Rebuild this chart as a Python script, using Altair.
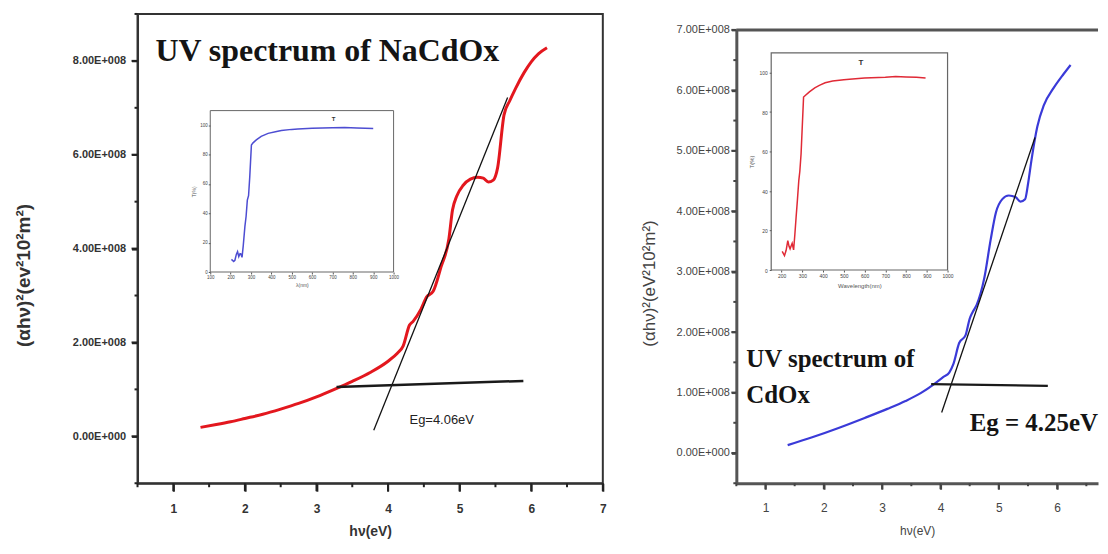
import altair as alt
import pandas as pd

# ---------------- data ----------------
# Left panel: NaCdOx Tauc plot, (αhν)² in units of 1E+008
na_hv = [1.38, 1.6, 1.8, 2.0, 2.25, 2.5, 2.75, 3.0, 3.25, 3.5, 3.75, 4.0, 4.13, 4.21,
         4.3, 4.35, 4.46, 4.54, 4.63, 4.74, 4.85, 4.9, 4.96, 5.05, 5.15, 5.25, 5.33,
         5.4, 5.47, 5.53, 5.62, 5.7, 5.78, 5.9, 6.0, 6.1, 6.22]
na_ahv2 = [0.19, 0.25, 0.31, 0.38, 0.47, 0.58, 0.70, 0.84, 1.00, 1.17, 1.36, 1.60, 1.77, 1.92,
           2.37, 2.45, 2.71, 2.97, 3.09, 3.61, 4.21, 4.82, 5.12, 5.35, 5.48, 5.52, 5.50,
           5.42, 5.46, 5.72, 6.85, 7.15, 7.41, 7.75, 7.98, 8.15, 8.28]
na_tan_hv = [3.80, 5.67]
na_tan_ahv2 = [0.13, 7.22]
na_base_hv = [3.28, 5.89]
na_base_ahv2 = [1.05, 1.18]
# Left inset: transmittance (%) vs wavelength (nm)
na_nm = [204, 215, 221, 228, 234, 240, 246, 250, 256, 262, 270, 276, 282, 288, 294, 302,
         310, 326, 350, 384, 420, 449, 500, 530, 600, 700, 760, 820, 900]
na_T = [8.6, 7.2, 8.0, 12.0, 13.9, 10.5, 12.5, 12.3, 10.0, 18.0, 30.9, 38.0, 49.0, 52.0, 65.0, 86.6,
        88.0, 90.0, 92.5, 94.5, 95.6, 96.4, 97.2, 97.5, 97.9, 98.3, 98.4, 98.1, 97.8]

# Right panel: CdOx Tauc plot
cd_hv = [1.38, 1.8, 2.24, 2.7, 3.09, 3.4, 3.66, 3.89, 4.05, 4.15, 4.22, 4.32, 4.43, 4.5,
         4.55, 4.62, 4.75, 4.86, 4.95, 5.06, 5.17, 5.29, 5.37, 5.45, 5.5, 5.56, 5.66, 5.77,
         5.94, 6.11, 6.23]
cd_ahv2 = [0.13, 0.26, 0.41, 0.58, 0.73, 0.86, 0.99, 1.14, 1.26, 1.33, 1.47, 1.82, 1.95, 2.22,
           2.33, 2.45, 2.89, 3.53, 3.98, 4.20, 4.26, 4.23, 4.16, 4.20, 4.45, 4.85, 5.40, 5.75,
           6.04, 6.27, 6.42]
cd_tan_hv = [4.02, 5.62]
cd_tan_ahv2 = [0.67, 5.22]
cd_base_hv = [3.84, 5.84]
cd_base_ahv2 = [1.14, 1.11]
cd_nm = [203, 214, 222, 230, 236, 241, 251, 258, 264, 270, 276, 283, 288, 294, 306, 334,
         360, 382, 410, 446, 500, 527, 600, 700, 750, 800, 850, 894]
cd_T = [9.4, 7.3, 10.0, 14.9, 12.0, 10.7, 13.5, 10.2, 18.0, 26.7, 35.0, 45.3, 50.0, 58.9, 87.6, 90.2,
        92.2, 93.5, 94.8, 95.7, 96.3, 96.6, 97.2, 97.6, 98.0, 97.8, 97.6, 97.2]

# tick values
na_x_major = [1, 2, 3, 4, 5, 6, 7]
na_x_minor = [0.5, 1.5, 2.5, 3.5, 4.5, 5.5, 6.5]
na_y_major = [0, 2, 4, 6, 8]
na_y_minor = [-1, 1, 3, 5, 7, 9]
cd_x_major = [1, 2, 3, 4, 5, 6]
cd_x_minor = [0.5, 1.5, 2.5, 3.5, 4.5, 5.5, 6.5]
cd_y_major = [0, 1, 2, 3, 4, 5, 6, 7]
cd_y_minor = [-0.5, 0.5, 1.5, 2.5, 3.5, 4.5, 5.5, 6.5]
na_inset_x_ticks = [100, 200, 300, 400, 500, 600, 700, 800, 900, 1000]
cd_inset_x_ticks = [200, 300, 400, 500, 600, 700, 800, 900, 1000]
inset_y_ticks = [0, 20, 40, 60, 80, 100]

# ---------------- style ----------------
RED = "#e3171e"
BLUE = "#3a3ad8"
INSET_BLUE = "#4d4dd2"
INSET_RED = "#e02a36"
SANS = "Liberation Sans"
SERIF = "Liberation Serif"

LW, LH = 467, 471
RW, RH = 363, 471

E_LABEL = "datum.value === 0 ? '0.00E+000' : format(datum.value, '.2f') + 'E+008'"


def one(**kw):
    return pd.DataFrame({k: [v] for k, v in kw.items()})


def tick_rules(xs, ys, xa, ya, xdom, ydom, px_per_x, px_per_y,
               x_major, x_minor, y_major, y_minor, maj_x, min_x, maj_y, min_y, color, width):
    """Outward tick marks drawn through the panel's own scales."""
    rows = []
    for v, L in [(v, maj_x) for v in x_major] + [(v, min_x) for v in x_minor]:
        rows.append({"x": v, "x2": v, "y": ydom[0], "y2": ydom[0] - L / px_per_y})
    for v, L in [(v, maj_y) for v in y_major] + [(v, min_y) for v in y_minor]:
        rows.append({"x": xdom[0], "x2": xdom[0] - L / px_per_x, "y": v, "y2": v})
    return alt.Chart(pd.DataFrame(rows)).mark_rule(color=color, strokeWidth=width).encode(
        x=alt.X("x:Q", scale=xs, axis=xa), x2="x2:Q",
        y=alt.Y("y:Q", scale=ys, axis=ya), y2="y2:Q")


# ================= LEFT PANEL =================
NA_XD, NA_YD = [0.5, 7], [-1, 9]
na_xs = alt.Scale(domain=NA_XD, nice=False, zero=False)
na_ys = alt.Scale(domain=NA_YD, nice=False, zero=False)
na_xa = alt.Axis(orient="bottom", title="hν(eV)", values=na_x_major, format="d",
                 ticks=True, tickSize=8, tickWidth=2, tickColor="#222",
                 domainColor="#333", domainWidth=2,
                 labelFont=SANS, labelFontWeight="bold", labelFontSize=12, labelColor="#333",
                 labelPadding=12, labelFlush=False,
                 titleFont=SANS, titleFontWeight="bold", titleFontSize=14, titleColor="#333",
                 titlePadding=10)
na_ya = alt.Axis(orient="left", title="(αhν)²(ev²10²m²)", values=na_y_major,
                 labelExpr=E_LABEL,
                 ticks=True, tickSize=6, tickWidth=2, tickColor="#222",
                 domainColor="#333", domainWidth=2,
                 labelFont=SANS, labelFontWeight="bold", labelFontSize=11, labelColor="#333",
                 labelPadding=6,
                 titleFont=SANS, titleFontWeight="bold", titleFontSize=19, titleColor="#333",
                 titleX=-104, titleY=262)


def na_enc(ch):
    return ch.encode(x=alt.X("x:Q", scale=na_xs, axis=na_xa),
                     y=alt.Y("y:Q", scale=na_ys, axis=na_ya))


na_curve = na_enc(alt.Chart(pd.DataFrame({"x": na_hv, "y": na_ahv2}))
                  .mark_line(color=RED, strokeWidth=3, interpolate="monotone"))
na_tan = na_enc(alt.Chart(pd.DataFrame({"x": na_tan_hv, "y": na_tan_ahv2}))
                .mark_line(color="#111", strokeWidth=1.3))
na_base = na_enc(alt.Chart(pd.DataFrame({"x": na_base_hv, "y": na_base_ahv2}))
                 .mark_line(color="#1a1a1a", strokeWidth=2.5))
na_title = na_enc(alt.Chart(one(x=0.75, y=8.2, t="UV spectrum of NaCdOx")).mark_text(
    align="left", baseline="middle", font=SERIF, fontWeight="bold", fontSize=32, color="#141414"
)).encode(text="t:N")
na_eg = na_enc(alt.Chart(one(x=4.3, y=0.34, t="Eg=4.06eV")).mark_text(
    align="left", baseline="middle", font=SANS, fontSize=13, color="#222"
)).encode(text="t:N")
na_ticks = tick_rules(na_xs, na_ys, na_xa, na_ya, NA_XD, NA_YD,
                      LW / (NA_XD[1] - NA_XD[0]), LH / (NA_YD[1] - NA_YD[0]),
                      na_x_major, na_x_minor, na_y_major, na_y_minor, 8, 4, 6, 3, "#222", 2)

na_main = alt.layer(na_curve, na_tan, na_base, na_title, na_eg, na_ticks)

# left inset
na_ixs = alt.Scale(domain=[100, 1000], range=[73, 257], nice=False, zero=False)
na_iys = alt.Scale(domain=[0, 110], range=[259, 97], nice=False, zero=False)
na_ixa = alt.Axis(orient="bottom", offset=-212, title="λ(nm)", values=na_inset_x_ticks, format="d",
                  ticks=True, tickSize=2, tickColor="#555", domain=False, labelFontSize=4.5,
                  labelColor="#444", labelPadding=1, labelFlush=False, labelOverlap=False,
                  labelFont=SANS, titleFontSize=5, titleFont=SANS, titleColor="#555",
                  titlePadding=3, titleFontWeight="normal")
na_iya = alt.Axis(orient="left", offset=-73, title="T(%)", values=inset_y_ticks, format="d",
                  ticks=True, tickSize=2, tickColor="#555", domain=False, labelFontSize=4.5,
                  labelColor="#444", labelPadding=1, labelFont=SANS, titleFontSize=5,
                  titleFont=SANS, titleColor="#555", titlePadding=3, titleFontWeight="normal")


def na_ienc(ch):
    return ch.encode(x=alt.X("x:Q", scale=na_ixs, axis=na_ixa),
                     y=alt.Y("y:Q", scale=na_iys, axis=na_iya))


na_iframe = alt.Chart(one(x=100, x2=1000, y=0, y2=110)).mark_rect(
    filled=False, stroke="#666", strokeWidth=1
).encode(x=alt.X("x:Q", scale=na_ixs, axis=na_ixa), x2="x2:Q",
         y=alt.Y("y:Q", scale=na_iys, axis=na_iya), y2="y2:Q")
na_icurve = na_ienc(alt.Chart(pd.DataFrame({"x": na_nm, "y": na_T}))
                    .mark_line(color=INSET_BLUE, strokeWidth=1.5))
na_iT = na_ienc(alt.Chart(one(x=705, y=104, t="T")).mark_text(
    font=SANS, fontSize=6, fontWeight="bold", color="#333")).encode(text="t:N")
na_inset = alt.layer(na_iframe, na_icurve, na_iT)

left_panel = alt.layer(na_main, na_inset).resolve_scale(
    x="independent", y="independent"
).properties(width=LW, height=LH, view=alt.ViewBackground(stroke="#333", strokeWidth=2, fill="white"))

# ================= RIGHT PANEL =================
CD_XD, CD_YD = [0.5, 6.7], [-0.5, 7]
CD_YR = [471, 16]
cd_xs = alt.Scale(domain=CD_XD, nice=False, zero=False)
cd_ys = alt.Scale(domain=CD_YD, range=CD_YR, nice=False, zero=False)
cd_xa = alt.Axis(orient="bottom", title="hν(eV)", values=cd_x_major, format="d",
                 ticks=True, tickSize=6, tickWidth=2, tickColor="#444",
                 domainColor="#555", domainWidth=3,
                 labelFont=SANS, labelFontSize=12, labelColor="#444", labelPadding=13,
                 labelFlush=False,
                 titleFont=SANS, titleFontWeight="normal", titleFontSize=12, titleColor="#444",
                 titlePadding=12)
cd_ya = alt.Axis(orient="left", title="(αhν)²(eV²10²m²)", values=cd_y_major,
                 labelExpr=E_LABEL,
                 ticks=True, tickSize=5, tickWidth=2, tickColor="#444",
                 domainColor="#555", domainWidth=3,
                 labelFont=SANS, labelFontSize=11, labelColor="#444", labelPadding=2,
                 titleFont=SANS, titleFontWeight="normal", titleFontSize=17, titleColor="#444",
                 titleX=-78, titleY=270)


def cd_enc(ch):
    return ch.encode(x=alt.X("x:Q", scale=cd_xs, axis=cd_xa),
                     y=alt.Y("y:Q", scale=cd_ys, axis=cd_ya))


cd_curve = cd_enc(alt.Chart(pd.DataFrame({"x": cd_hv, "y": cd_ahv2}))
                  .mark_line(color=BLUE, strokeWidth=2.2, interpolate="monotone"))
cd_tan = cd_enc(alt.Chart(pd.DataFrame({"x": cd_tan_hv, "y": cd_tan_ahv2}))
                .mark_line(color="#111", strokeWidth=1.3))
cd_base = cd_enc(alt.Chart(pd.DataFrame({"x": cd_base_hv, "y": cd_base_ahv2}))
                 .mark_line(color="#1a1a1a", strokeWidth=2.2))
cd_top = alt.Chart(one(x=CD_XD[0], x2=CD_XD[1], y=CD_YD[1])).mark_rule(
    color="#555", strokeWidth=3).encode(
    x=alt.X("x:Q", scale=cd_xs, axis=cd_xa), x2="x2:Q", y=alt.Y("y:Q", scale=cd_ys, axis=cd_ya))
cd_txt = cd_enc(alt.Chart(pd.DataFrame({"x": [0.67, 0.67, 4.5],
                                        "y": [1.55, 0.96, 0.5],
                                        "t": ["UV spectrum of", "CdOx", "Eg = 4.25eV"]})).mark_text(
    align="left", baseline="middle", font=SERIF, fontWeight="bold", fontSize=25, color="#141414"
)).encode(text="t:N")
cd_ticks = tick_rules(cd_xs, cd_ys, cd_xa, cd_ya, CD_XD, CD_YD,
                      RW / (CD_XD[1] - CD_XD[0]), (CD_YR[0] - CD_YR[1]) / (CD_YD[1] - CD_YD[0]),
                      cd_x_major, cd_x_minor, cd_y_major, cd_y_minor, 6, 3, 5, 3, "#444", 2)

cd_main = alt.layer(cd_top, cd_curve, cd_tan, cd_base, cd_txt, cd_ticks)

cd_ixs = alt.Scale(domain=[150, 1000], range=[35, 212], nice=False, zero=False)
cd_iys = alt.Scale(domain=[0, 110], range=[257, 39], nice=False, zero=False)
cd_ixa = alt.Axis(orient="bottom", offset=-214, title="Wavelength(nm)", values=cd_inset_x_ticks,
                  format="d", ticks=True, tickSize=2, tickColor="#555", domain=False,
                  labelFontSize=5, labelColor="#444", labelPadding=2, labelFlush=False,
                  labelOverlap=False, labelFont=SANS, titleFontSize=6, titleFont=SANS,
                  titleColor="#555", titlePadding=4, titleFontWeight="normal")
cd_iya = alt.Axis(orient="left", offset=-35, title="T(%)", values=inset_y_ticks, format="d",
                  ticks=True, tickSize=2, tickColor="#555", domain=False, labelFontSize=5,
                  labelColor="#444", labelPadding=2, labelFont=SANS, titleFontSize=6,
                  titleFont=SANS, titleColor="#555", titlePadding=4, titleFontWeight="normal")


def cd_ienc(ch):
    return ch.encode(x=alt.X("x:Q", scale=cd_ixs, axis=cd_ixa),
                     y=alt.Y("y:Q", scale=cd_iys, axis=cd_iya))


cd_iframe = alt.Chart(one(x=150, x2=1000, y=0, y2=110)).mark_rect(
    filled=False, stroke="#666", strokeWidth=1.2
).encode(x=alt.X("x:Q", scale=cd_ixs, axis=cd_ixa), x2="x2:Q",
         y=alt.Y("y:Q", scale=cd_iys, axis=cd_iya), y2="y2:Q")
cd_icurve = cd_ienc(alt.Chart(pd.DataFrame({"x": cd_nm, "y": cd_T}))
                    .mark_line(color=INSET_RED, strokeWidth=1.5))
cd_iT = cd_ienc(alt.Chart(one(x=582, y=104.6, t="T")).mark_text(
    font=SANS, fontSize=8, fontWeight="bold", color="#333")).encode(text="t:N")
cd_inset = alt.layer(cd_iframe, cd_icurve, cd_iT)

right_panel = alt.layer(cd_main, cd_inset).resolve_scale(
    x="independent", y="independent"
).properties(width=RW, height=RH, view=alt.ViewBackground(stroke="transparent", fill="white"))

chart = alt.hconcat(left_panel, right_panel, spacing=32).properties(
    padding={"left": 6, "top": 3, "right": 0, "bottom": 0},
    background="white",
).configure_axis(grid=False).configure_view(stroke="transparent")

chart.save("out.html", embed_options={"renderer": "svg", "actions": False})
